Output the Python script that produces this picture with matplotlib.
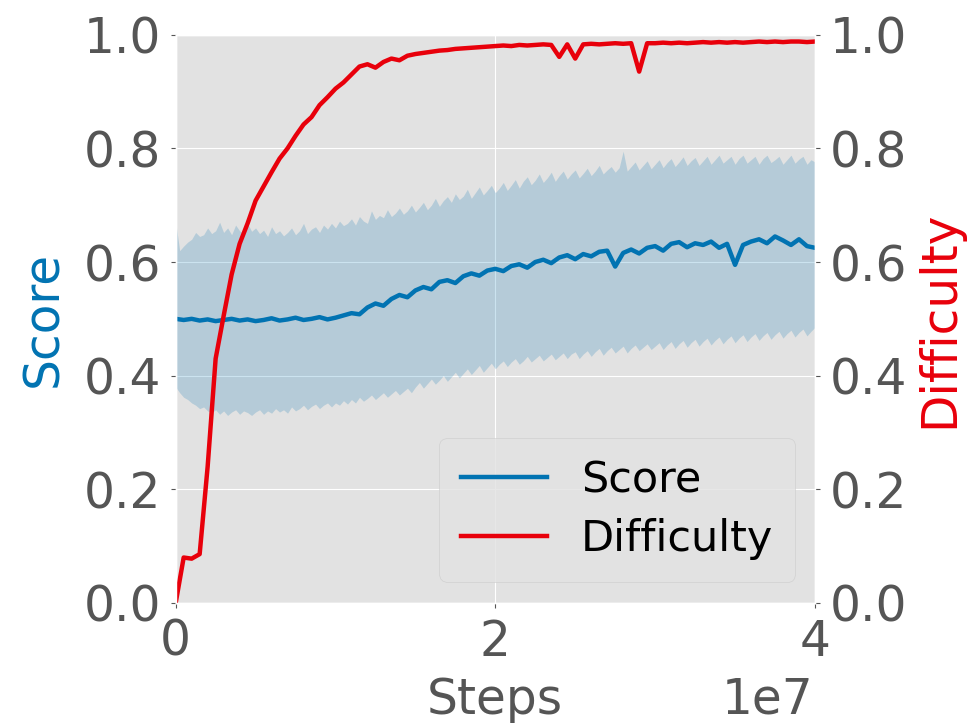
import matplotlib
matplotlib.use("Agg")

import matplotlib.pyplot as plt
import numpy as np

BLUE = "#0173b2"
RED = "#e8000b"
GREY = "#555555"

# line samples every 0.5e6 steps
steps_line = np.arange(81) * 0.5e6

score = [
    0.500, 0.498, 0.500, 0.497, 0.499, 0.496, 0.498, 0.500, 0.497, 0.499,
    0.496, 0.498, 0.501, 0.497, 0.499, 0.502, 0.498, 0.500, 0.503, 0.499,
    0.502, 0.506, 0.510, 0.508, 0.520, 0.527, 0.523, 0.535, 0.542, 0.538,
    0.550, 0.556, 0.552, 0.565, 0.568, 0.563, 0.575, 0.580, 0.576, 0.585,
    0.588, 0.584, 0.593, 0.596, 0.590, 0.600, 0.604, 0.598, 0.608, 0.612,
    0.605, 0.614, 0.610, 0.618, 0.620, 0.592, 0.616, 0.622, 0.615, 0.625,
    0.628, 0.620, 0.632, 0.635, 0.626, 0.633, 0.630, 0.636, 0.625, 0.632,
    0.595, 0.630, 0.636, 0.640, 0.633, 0.645, 0.638, 0.630, 0.640, 0.628,
    0.625,
]

difficulty = [
    0.000, 0.080, 0.078, 0.086, 0.240, 0.430, 0.505, 0.578, 0.632, 0.668,
    0.708, 0.733, 0.758, 0.782, 0.800, 0.822, 0.842, 0.855, 0.876, 0.890,
    0.905, 0.916, 0.930, 0.944, 0.948, 0.942, 0.952, 0.958, 0.955, 0.963,
    0.966, 0.968, 0.970, 0.972, 0.973, 0.975, 0.976, 0.977, 0.978, 0.979,
    0.980, 0.981, 0.980, 0.982, 0.981, 0.982, 0.983, 0.982, 0.961, 0.983,
    0.958, 0.983, 0.984, 0.983, 0.984, 0.985, 0.984, 0.985, 0.935, 0.985,
    0.985, 0.986, 0.985, 0.986, 0.985, 0.986, 0.987, 0.986, 0.987, 0.986,
    0.987, 0.986, 0.987, 0.988, 0.987, 0.988, 0.987, 0.988, 0.988, 0.987,
    0.988,
]

# score spread band, every 0.25e6 steps
steps_band = np.arange(161) * 0.25e6

band_upper = [
    0.670, 0.620, 0.628, 0.635, 0.640, 0.652, 0.645, 0.648, 0.660, 0.650,
    0.655, 0.670, 0.652, 0.660, 0.648, 0.665, 0.655, 0.650, 0.668, 0.654,
    0.660, 0.650, 0.656, 0.645, 0.662, 0.650, 0.655, 0.646, 0.652, 0.660,
    0.648, 0.655, 0.668, 0.650, 0.658, 0.662, 0.652, 0.665, 0.658, 0.668,
    0.660, 0.672, 0.664, 0.668, 0.676, 0.665, 0.680, 0.672, 0.668, 0.690,
    0.675, 0.682, 0.678, 0.692, 0.680, 0.686, 0.695, 0.684, 0.690, 0.700,
    0.688, 0.696, 0.705, 0.692, 0.700, 0.712, 0.698, 0.708, 0.715, 0.705,
    0.720, 0.710, 0.716, 0.728, 0.712, 0.722, 0.732, 0.718, 0.726, 0.735,
    0.722, 0.730, 0.740, 0.726, 0.735, 0.745, 0.730, 0.742, 0.750, 0.736,
    0.744, 0.755, 0.740, 0.748, 0.758, 0.742, 0.752, 0.760, 0.746, 0.755,
    0.762, 0.748, 0.756, 0.765, 0.752, 0.760, 0.770, 0.755, 0.762, 0.768,
    0.758, 0.766, 0.795, 0.760, 0.768, 0.776, 0.762, 0.770, 0.778, 0.764,
    0.772, 0.780, 0.766, 0.775, 0.782, 0.768, 0.776, 0.785, 0.770, 0.778,
    0.784, 0.770, 0.778, 0.786, 0.772, 0.780, 0.788, 0.774, 0.780, 0.786,
    0.772, 0.782, 0.788, 0.774, 0.780, 0.786, 0.772, 0.782, 0.788, 0.775,
    0.780, 0.786, 0.772, 0.780, 0.788, 0.774, 0.781, 0.786, 0.772, 0.780,
    0.776,
]

band_lower = [
    0.380, 0.370, 0.362, 0.358, 0.352, 0.348, 0.342, 0.345, 0.338, 0.335,
    0.340, 0.332, 0.338, 0.330, 0.336, 0.340, 0.332, 0.338, 0.335, 0.330,
    0.336, 0.340, 0.332, 0.338, 0.334, 0.342, 0.336, 0.340, 0.334, 0.345,
    0.338, 0.342, 0.348, 0.340, 0.346, 0.350, 0.342, 0.348, 0.352, 0.345,
    0.352, 0.348, 0.356, 0.350, 0.358, 0.352, 0.362, 0.355, 0.360, 0.366,
    0.358, 0.364, 0.370, 0.362, 0.368, 0.374, 0.366, 0.372, 0.378, 0.370,
    0.380, 0.388, 0.378, 0.386, 0.394, 0.385, 0.392, 0.400, 0.390, 0.398,
    0.406, 0.396, 0.404, 0.412, 0.402, 0.410, 0.418, 0.406, 0.414, 0.422,
    0.412, 0.420, 0.426, 0.416, 0.424, 0.430, 0.420, 0.426, 0.434, 0.424,
    0.430, 0.436, 0.426, 0.432, 0.438, 0.428, 0.434, 0.440, 0.430, 0.438,
    0.442, 0.430, 0.438, 0.444, 0.434, 0.442, 0.448, 0.436, 0.444, 0.450,
    0.440, 0.446, 0.452, 0.440, 0.448, 0.454, 0.444, 0.450, 0.456, 0.446,
    0.452, 0.458, 0.446, 0.454, 0.460, 0.448, 0.456, 0.462, 0.450, 0.458,
    0.464, 0.452, 0.460, 0.466, 0.454, 0.462, 0.468, 0.456, 0.464, 0.470,
    0.458, 0.466, 0.472, 0.460, 0.468, 0.474, 0.462, 0.470, 0.476, 0.464,
    0.472, 0.478, 0.466, 0.474, 0.480, 0.468, 0.476, 0.482, 0.470, 0.478,
    0.485,
]

plt.style.use("ggplot")
plt.rcParams["font.family"] = "DejaVu Sans"

FS = 35

fig = plt.figure(figsize=(9.76, 7.23), dpi=100)
ax = fig.add_axes([0.180, 0.166, 0.655, 0.786])
ax.set_facecolor("#e2e2e2")

ax.fill_between(steps_band, band_lower, band_upper, color=BLUE, alpha=0.2,
                linewidth=0)
l1, = ax.plot(steps_line, score, color=BLUE, lw=3.2, label="Score")

ax.set_xlim(0, 4e7)
ax.set_ylim(0, 1.0)
ax.set_xticks([0, 2e7, 4e7])
ax.set_yticks([0, 0.2, 0.4, 0.6, 0.8, 1.0])
ax.tick_params(labelsize=FS, colors=GREY, pad=7)
ax.xaxis.get_offset_text().set_visible(False)
ax.set_xlabel("Steps", fontsize=FS, color=GREY)
ax.xaxis.set_label_coords(0.499, -0.128)
ax.set_ylabel("Score", fontsize=FS, color=BLUE, labelpad=12)

# order-of-magnitude multiplier under the right end of the x axis
fig.text(813 / 976, 1 - 676 / 723, "1e7", fontsize=FS, color=GREY,
         ha="right", va="top")

ax2 = ax.twinx()
ax2.grid(False)
l2, = ax2.plot(steps_line, difficulty, color=RED, lw=3.2, label="Difficulty")
ax2.set_ylim(0, 1.0)
ax2.set_yticks([0, 0.2, 0.4, 0.6, 0.8, 1.0])
ax2.tick_params(labelsize=FS, colors=GREY, pad=7)
ax2.set_ylabel("Difficulty", fontsize=FS, color=RED, labelpad=6)

leg = ax2.legend(handles=[l1, l2], loc="lower right", fontsize=31,
                 bbox_to_anchor=(0.969, 0.037), borderaxespad=0,
                 handlelength=2.0, borderpad=0.5, labelspacing=0.4)
leg.get_frame().set_facecolor("#e2e2e2")
leg.get_frame().set_edgecolor("#cccccc")
for t in leg.get_texts():
    t.set_color("black")

fig.savefig("out.png", dpi=100, facecolor="white")
